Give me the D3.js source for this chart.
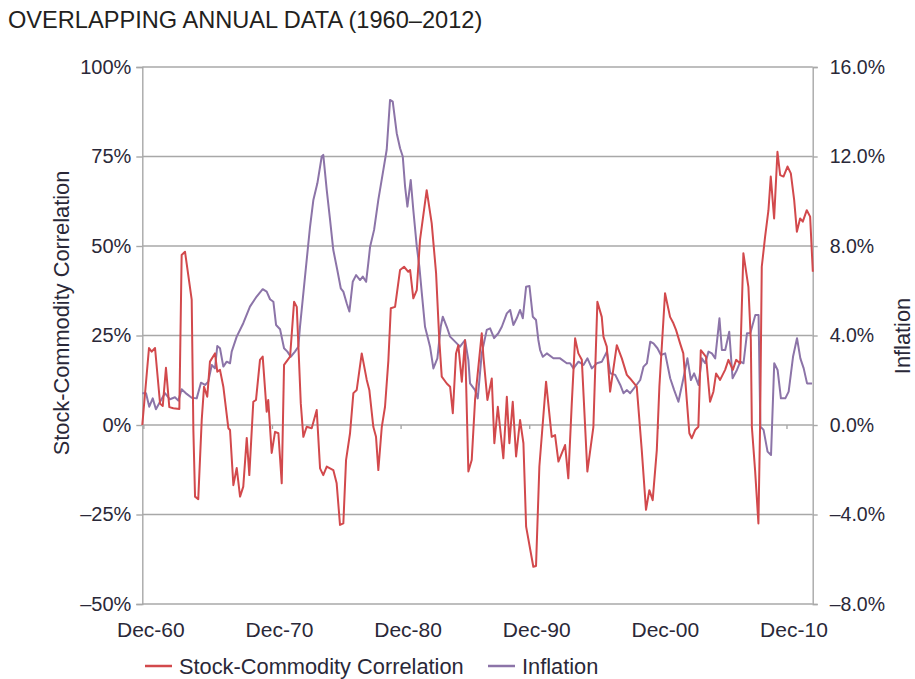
<!DOCTYPE html>
<html>
<head>
<meta charset="utf-8">
<script src="https://d3js.org/d3.v7.min.js"></script>
<style>
  body { margin: 0; background: #fff; }
  svg text { font-family: "Liberation Sans", Arial, sans-serif; }
</style>
</head>
<body>
<div id="chart"></div>
<script>
// years as decimal values (Dec-60 = 1960.92)
var corrYears = [1960.80,1961.32,1961.53,1961.79,1962.18,1962.39,1962.64,1962.90,1963.21,1963.68,1963.86,1964.12,1964.64,1964.77,1964.90,1965.15,1965.42,1965.60,1965.85,1966.06,1966.45,1966.63,1966.84,1967.10,1967.49,1967.62,1967.88,1968.14,1968.40,1968.65,1968.92,1969.12,1969.43,1969.64,1969.95,1970.16,1970.47,1970.59,1970.86,1971.12,1971.38,1971.64,1971.82,1972.29,1972.60,1972.81,1973.12,1973.32,1973.58,1973.97,1974.36,1974.62,1974.87,1975.14,1975.65,1975.91,1976.17,1976.43,1976.64,1976.95,1977.21,1977.47,1977.86,1978.25,1978.45,1978.76,1978.97,1979.15,1979.42,1979.67,1979.93,1980.12,1980.45,1980.84,1981.15,1981.48,1981.62,1981.87,1982.14,1982.39,1982.91,1983.30,1983.64,1983.89,1984.08,1984.47,1984.73,1984.94,1985.19,1985.37,1985.64,1985.89,1986.15,1986.41,1986.67,1987.19,1987.32,1987.63,1987.97,1988.17,1988.44,1988.87,1989.14,1989.34,1989.60,1989.86,1990.17,1990.43,1990.64,1991.20,1991.41,1991.67,1992.19,1992.63,1992.89,1993.15,1993.67,1993.92,1994.19,1994.45,1994.70,1994.97,1995.40,1995.87,1996.18,1996.52,1996.65,1996.91,1997.17,1997.69,1998.08,1998.47,1998.72,1999.24,1999.63,1999.96,2000.22,2000.48,2000.80,2001.00,2001.44,2001.83,2002.09,2002.30,2002.61,2002.86,2003.13,2003.33,2003.52,2003.78,2004.03,2004.22,2004.42,2004.63,2004.94,2005.20,2005.41,2005.72,2006.11,2006.37,2006.71,2006.97,2007.28,2007.53,2007.92,2008.11,2008.19,2008.44,2008.70,2008.83,2008.96,2009.22,2009.48,2009.66,2009.92,2010.18,2010.39,2010.65,2010.96,2011.22,2011.48,2011.69,2011.94,2012.15,2012.46,2012.72,2012.93];
var corrValues = [0,21.5,20.5,21.5,6,5.3,16,5,4.7,4.5,47.5,48.4,35,-1.4,-20,-20.7,1.4,10.7,7.9,17.7,20,14.9,15.4,10.7,-0.9,-1.4,-16.8,-12,-20,-17.2,-3.6,-14,6.5,7,18.2,19.1,3.7,7,-7.8,-1.9,-2.3,-16.3,16.8,19.1,34.4,33,6.1,-3.3,-0.5,-0.9,4.2,-12.1,-14,-11.6,-12.6,-16.3,-27.9,-27.5,-9.8,-2.3,8.9,9.8,20,12.6,9.8,-0.5,-3.3,-12.6,-0.5,5.1,18,32.6,33,43.3,44.2,42.8,43.3,35.4,37.7,51.7,65.6,56.3,42.4,23.7,13.5,11.6,10.7,3.3,20,22.3,12.1,23.7,-13,-9.8,7,25.6,19.1,7,13,-5.1,5.1,-9.3,7.9,-5.1,6.5,-8.8,1.4,-5.1,-28.4,-39.6,-39.4,-11.6,12.1,-3.3,-2.8,-10.2,-5.6,-14.9,6.1,24.2,20,18.2,-13,-0.5,34.4,30.2,24.7,21.9,9.3,22.3,18.6,14,13,10.7,-7,-23.7,-18.2,-21,-7,10.7,36.8,30.2,28.4,26.5,22.8,20,7,-2.3,-3.7,-1.4,-0.5,20.9,20,19,6.5,9.3,14.4,12.6,15.4,18.2,15.4,18.2,17.2,48,38.6,23.7,-0.5,-12.6,-27.5,0,44.2,52.6,60,69.4,57.7,76.3,69.8,69.4,72.2,70.3,62.8,54,57.7,56.8,60,58.2,42.8];

var inflYears = [1960.80,1961.09,1961.34,1961.61,1961.86,1962.18,1962.56,1962.95,1963.34,1963.60,1963.86,1964.25,1964.64,1965.03,1965.36,1965.68,1965.93,1966.20,1966.45,1966.63,1966.84,1967.10,1967.36,1967.62,1967.75,1968.14,1968.65,1969.17,1969.69,1970.16,1970.47,1970.73,1970.99,1971.20,1971.51,1971.82,1972.08,1972.34,1972.67,1972.93,1973.06,1973.45,1973.84,1974.10,1974.41,1974.75,1974.87,1975.14,1975.40,1975.65,1975.96,1976.23,1976.43,1976.69,1976.90,1977.16,1977.42,1977.73,1977.94,1978.20,1978.37,1978.51,1978.82,1979.15,1979.54,1979.80,1980.06,1980.27,1980.58,1980.84,1981.05,1981.23,1981.41,1981.67,1981.87,1982.14,1982.34,1982.53,1982.78,1983.04,1983.17,1983.43,1983.74,1984.00,1984.16,1984.47,1984.73,1985.25,1985.50,1985.89,1986.15,1986.28,1986.67,1986.88,1987.19,1987.58,1987.84,1988.15,1988.48,1988.75,1989.14,1989.40,1989.65,1989.91,1990.17,1990.38,1990.64,1990.90,1991.16,1991.41,1991.59,1991.73,1991.94,1992.25,1992.76,1993.28,1993.80,1994.06,1994.32,1994.71,1995.10,1995.41,1995.75,1996.14,1996.53,1996.92,1997.18,1997.57,1997.96,1998.21,1998.48,1998.73,1999.12,1999.51,1999.77,2000.03,2000.29,2000.54,2000.85,2001.12,2001.45,2001.84,2002.15,2002.48,2002.87,2003.18,2003.45,2003.70,2004.04,2004.30,2004.56,2004.82,2005.08,2005.34,2005.67,2005.86,2006.12,2006.43,2006.69,2007.03,2007.29,2007.54,2007.81,2008.07,2008.46,2008.71,2008.85,2009.10,2009.41,2009.68,2009.93,2010.19,2010.45,2010.79,2011.05,2011.39,2011.70,2011.96,2012.22,2012.48,2012.87];
var inflValues = [1.42,1.42,0.82,1.19,0.70,1.04,1.42,1.15,1.24,1.09,1.6,1.39,1.22,1.19,1.89,1.79,1.94,2.68,2.53,3.53,3.43,2.61,2.83,2.76,3.28,3.95,4.55,5.29,5.74,6.07,5.96,5.62,5.51,4.47,4.28,3.43,3.28,3.05,3.28,3.5,4.39,6.63,8.86,10.06,10.8,12.0,12.07,10.5,9.16,7.82,6.93,6.11,5.96,5.44,5.07,6.4,6.7,6.48,6.63,6.4,7.23,7.97,8.72,10.06,11.4,12.3,14.53,14.45,13.04,12.37,12.0,10.65,9.76,10.95,9.61,7.97,7.08,5.89,4.39,3.8,3.5,2.53,2.98,4.39,4.84,4.39,3.95,3.65,3.5,3.8,2.9,1.86,1.56,1.19,3.2,4.25,4.32,3.88,4.1,4.39,4.99,5.14,4.47,4.77,5.14,4.77,6.18,6.21,4.84,4.69,3.8,3.35,3.05,3.2,2.98,2.98,2.76,2.76,2.53,2.83,2.68,2.98,2.53,2.76,2.83,3.28,2.31,2.24,1.79,1.42,1.56,1.42,1.71,2.01,2.61,2.76,3.72,3.65,3.43,3.13,3.2,2.09,1.56,1.04,2.09,2.98,2.01,2.31,1.79,2.98,2.76,3.28,3.2,2.98,4.77,3.35,3.35,4.17,2.09,2.46,2.83,2.76,4.1,4.1,4.92,4.92,-0.07,-0.22,-1.19,-1.34,2.76,2.46,1.19,1.19,1.49,3.05,3.88,2.98,2.53,1.86,1.86];

var xTickYears = [1960.92, 1970.92, 1980.92, 1990.92, 2000.92, 2010.92];
var xTickLabels = ["Dec-60", "Dec-70", "Dec-80", "Dec-90", "Dec-00", "Dec-10"];
var corrTicks = [-50, -25, 0, 25, 50, 75, 100];
var inflTicks = [-8, -4, 0, 4, 8, 12, 16];

var W = 915, H = 679;
var plotLeft = 142.3, plotRight = 812.7, plotTop = 67, plotBottom = 604;
var gridColor = "#a8a8a8", textColor = "#2a2838";
var red = "#d2494c", purple = "#8c74a8";

var svg = d3.select("#chart").append("svg")
  .attr("width", W).attr("height", H);

var x = d3.scaleLinear().domain([1960.8, 2012.92]).range([plotLeft, plotRight]);
var yC = d3.scaleLinear().domain([-50, 100]).range([plotBottom, plotTop]);
var yI = d3.scaleLinear().domain([-8, 16]).range([plotBottom, plotTop]);

// title
svg.append("text")
  .attr("x", 8).attr("y", 28)
  .attr("font-size", "23.6px").attr("fill", "#231f20")
  .text("OVERLAPPING ANNUAL DATA (1960\u20132012)");

// gridlines
svg.append("g").selectAll("line").data(corrTicks).join("line")
  .attr("x1", plotLeft).attr("x2", plotRight)
  .attr("y1", d => yC(d)).attr("y2", d => yC(d))
  .attr("stroke", gridColor).attr("stroke-width", 1.4);

// left axis
var leftAxis = svg.append("g")
  .attr("transform", "translate(" + plotLeft + ",0)")
  .call(d3.axisLeft(yC).tickValues(corrTicks).tickSize(6).tickPadding(5)
    .tickFormat(d => (d < 0 ? "\u2013" + Math.abs(d) : d) + "%"));
leftAxis.select(".domain").attr("stroke", gridColor).attr("stroke-width", 1.4);
leftAxis.selectAll(".tick line").attr("stroke", gridColor).attr("stroke-width", 1.4);
leftAxis.selectAll("text").attr("font-size", "20px").attr("fill", textColor)
  .attr("font-family", "Liberation Sans, Arial, sans-serif");

// right axis
var rightAxis = svg.append("g")
  .attr("transform", "translate(" + plotRight + ",0)")
  .call(d3.axisRight(yI).tickValues(inflTicks).tickSize(5).tickPadding(12)
    .tickFormat(d => (d < 0 ? "\u2013" + Math.abs(d).toFixed(1) : d.toFixed(1)) + "%"));
rightAxis.select(".domain").attr("stroke", gridColor).attr("stroke-width", 1.4);
rightAxis.selectAll(".tick line").attr("stroke", gridColor).attr("stroke-width", 1.4);
rightAxis.selectAll("text").attr("font-size", "19.5px").attr("fill", textColor)
  .attr("font-family", "Liberation Sans, Arial, sans-serif");

// x ticks sit on the 0% line, labels at the bottom
svg.append("g").selectAll("line").data(xTickYears).join("line")
  .attr("x1", d => x(d)).attr("x2", d => x(d))
  .attr("y1", yC(0)).attr("y2", yC(0) + 4)
  .attr("stroke", gridColor).attr("stroke-width", 1.4);
svg.append("g").selectAll("text").data(xTickYears).join("text")
  .attr("x", d => x(d) + 7).attr("y", 637)
  .attr("text-anchor", "middle")
  .attr("font-size", "21px").attr("fill", textColor)
  .text((d, i) => xTickLabels[i]);

// axis titles
svg.append("text")
  .attr("transform", "translate(69,313) rotate(-90)")
  .attr("text-anchor", "middle")
  .attr("font-size", "21.8px").attr("fill", textColor)
  .text("Stock-Commodity Correlation");
svg.append("text")
  .attr("transform", "translate(910,336) rotate(-90)")
  .attr("text-anchor", "middle")
  .attr("font-size", "21.8px").attr("fill", textColor)
  .text("Inflation");

// lines
var corrLine = d3.line().x((d, i) => x(corrYears[i])).y(d => yC(d));
var inflLine = d3.line().x((d, i) => x(inflYears[i])).y(d => yI(d));

svg.append("path").datum(inflValues)
  .attr("d", inflLine).attr("fill", "none")
  .attr("stroke", purple).attr("stroke-width", 2).attr("stroke-linejoin", "round");
svg.append("path").datum(corrValues)
  .attr("d", corrLine).attr("fill", "none")
  .attr("stroke", red).attr("stroke-width", 2).attr("stroke-linejoin", "round");

// legend
var legendItems = [
  { label: "Stock-Commodity Correlation", color: red, x: 145 },
  { label: "Inflation", color: purple, x: 488 }
];
var lg = svg.append("g");
legendItems.forEach(function (d) {
  lg.append("line")
    .attr("x1", d.x).attr("x2", d.x + 27)
    .attr("y1", 666).attr("y2", 666)
    .attr("stroke", d.color).attr("stroke-width", 2.5);
  lg.append("text")
    .attr("x", d.x + 34).attr("y", 674)
    .attr("font-size", "21.8px").attr("fill", textColor)
    .text(d.label);
});
</script>
</body>
</html>
